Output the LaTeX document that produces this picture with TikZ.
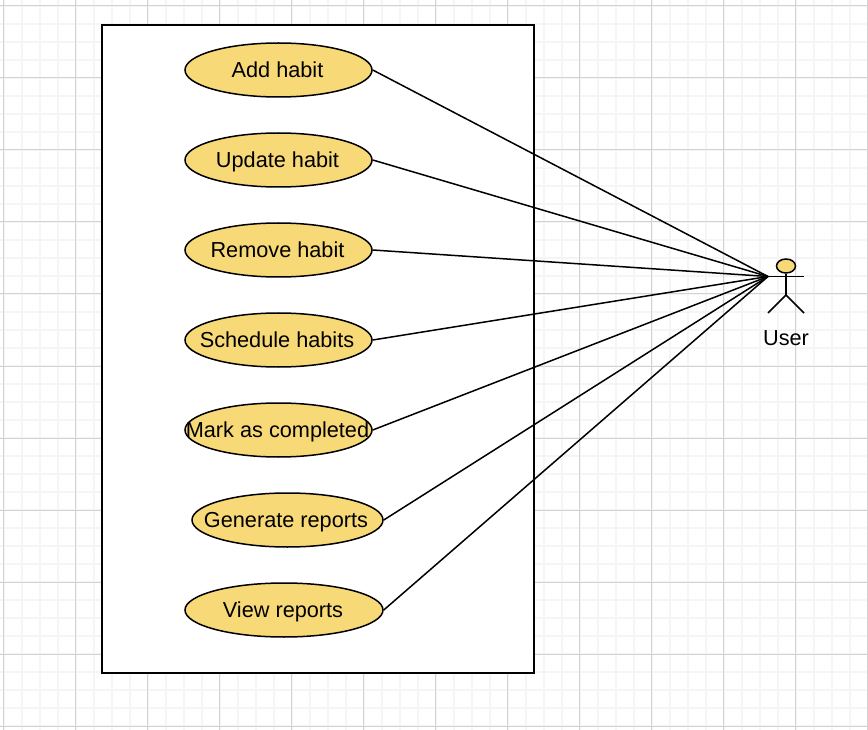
\documentclass[tikz,border=0pt]{standalone}
\usepackage{fontspec}
\setmainfont{Liberation Sans}
\usetikzlibrary{shapes.geometric}

\definecolor{usecasefill}{HTML}{F8D978}
\definecolor{gridminor}{HTML}{F5F5F5}
\definecolor{gridmajor}{HTML}{D2D2D2}

\tikzset{
  usecase/.style={draw=black,fill=usecasefill,ellipse,line width=1.5pt,inner sep=0pt,minimum height=54pt},
  label text/.style={font=\fontsize{21.7}{26}\selectfont,text=black,inner sep=0pt,anchor=base},
  actorline/.style={black,line width=1.5pt},
  link/.style={black,line width=1.5pt}
}

\begin{document}
\begin{tikzpicture}[x=1pt,y=-1pt]

\useasboundingbox (0,0) rectangle (868,730);

% Grade de fundo
\foreach \gx in {3.5,21.5,...,868} {\draw[gridminor,line width=2pt] (\gx,0) -- (\gx,730);}
\foreach \gy in {6,24,...,730} {\draw[gridminor,line width=2pt] (0,\gy) -- (868,\gy);}
\foreach \gx in {3.5,75.5,...,868} {\draw[gridmajor,line width=1pt] (\gx,0) -- (\gx,730);}
\foreach \gy in {6,78,...,730} {\draw[gridmajor,line width=1pt] (0,\gy) -- (868,\gy);}

% Limite do sistema
\draw[black,fill=white,line width=1.5pt] (102,25) rectangle (534,673);

% Casos de uso
\node[usecase,minimum width=187pt] (add) at (278.5,70) {};
\node[label text] (addtext) at (277.5,77.5) {Add habit};
\node[usecase,minimum width=187pt] (update) at (278.5,160) {};
\node[label text] (updatetext) at (277.5,167.5) {Update habit};
\node[usecase,minimum width=187pt] (remove) at (278.5,250) {};
\node[label text] (removetext) at (277.5,257.5) {Remove habit};
\node[usecase,minimum width=187pt] (schedule) at (278.5,340) {};
\node[label text] (scheduletext) at (277,347.5) {Schedule habits};
\node[usecase,minimum width=187pt] (mark) at (278.5,430) {};
\node[label text] (marktext) at (277.5,437.5) {Mark as completed};
\node[usecase,minimum width=191pt] (generate) at (287.5,520) {};
\node[label text] (generatetext) at (286,527.5) {Generate reports};
\node[usecase,minimum width=198pt] (view) at (284,610) {};
\node[label text] (viewtext) at (283,617.5) {View reports};

% Ator
\coordinate (hand) at (768,276.5);
\coordinate (handr) at (803.5,276.5);
\coordinate (hip) at (786,295);
\coordinate (footl) at (768,313);
\coordinate (footr) at (804,313);
\node[draw=black,fill=usecasefill,ellipse,line width=1.5pt,inner sep=0pt,minimum width=19pt,minimum height=14pt] (head) at (786,266) {};
\draw[actorline] (head.south) -- (hip);
\draw[actorline] (hand) -- (handr);
\draw[actorline] (footl) -- (hip) -- (footr);
\node[label text] (user) at (786,345.5) {User};

% Ligacoes com o ator
\foreach \usecasename in {add,update,remove,schedule,mark,generate,view} {
  \draw[link] (\usecasename.east) -- (hand);
}

\end{tikzpicture}
\end{document}
